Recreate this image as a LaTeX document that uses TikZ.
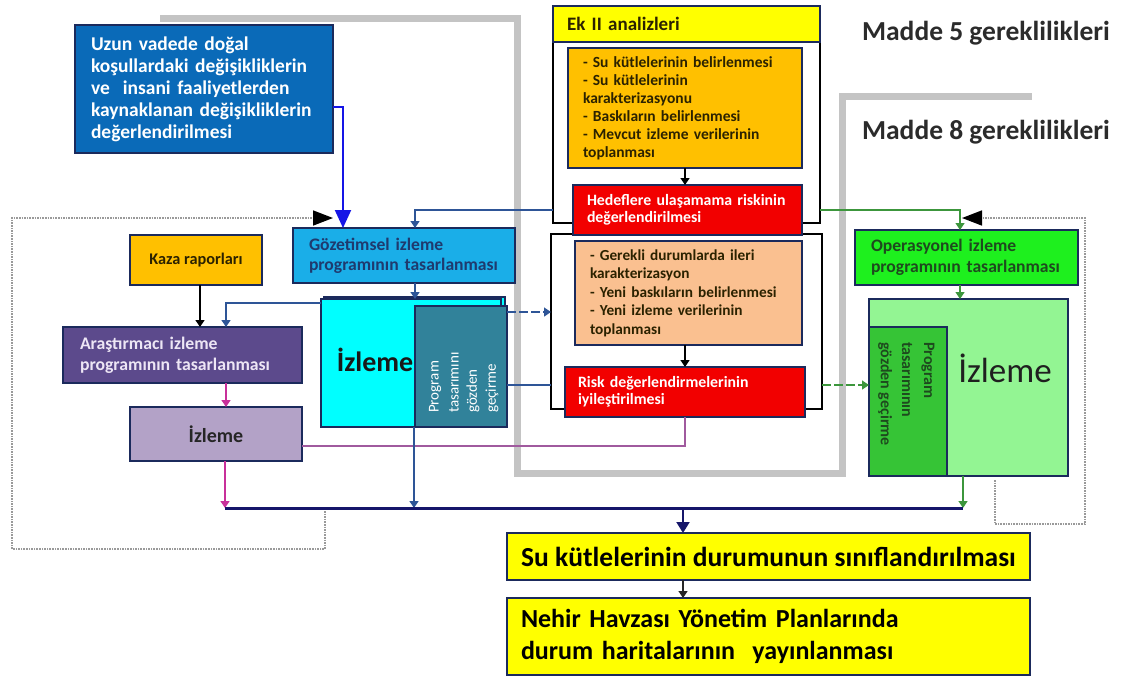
\documentclass[tikz,border=0pt]{standalone}
\usepackage{fontspec}
\setmainfont{Carlito}
\usetikzlibrary{arrows.meta,calc}
\definecolor{bnavy}{HTML}{1B2A5C}
\definecolor{uzunblue}{HTML}{0A6AB8}
\definecolor{orng}{HTML}{FFC000}
\definecolor{peach}{HTML}{FAC090}
\definecolor{rred}{HTML}{F20000}
\definecolor{gozblue}{HTML}{1AAEE8}
\definecolor{opgreen}{HTML}{1EF01E}
\definecolor{lgreen}{HTML}{93F593}
\definecolor{dgreen}{HTML}{36C436}
\definecolor{cyanb}{HTML}{00FFFF}
\definecolor{tealb}{HTML}{31829A}
\definecolor{purp}{HTML}{5C4A8C}
\definecolor{lilac}{HTML}{B3A2C7}
\definecolor{yel}{HTML}{FFFF00}
\definecolor{steel}{HTML}{2E5597}
\definecolor{arrgreen}{HTML}{3C963C}
\definecolor{magen}{HTML}{C8309A}
\definecolor{mauve}{HTML}{A05A9E}
\definecolor{mainnavy}{HTML}{16166A}
\definecolor{graybar}{HTML}{C4C4C4}
\definecolor{dotgray}{HTML}{9A9A9A}
\definecolor{bigblue}{HTML}{1515E6}
\definecolor{goztext}{HTML}{1F3A6E}
\definecolor{optext}{HTML}{1E4A1E}
\definecolor{darktext}{HTML}{2B2200}
\definecolor{lavtext}{HTML}{EDE6F5}
\definecolor{maddetext}{HTML}{2B2B2B}
\begin{document}
\begin{tikzpicture}[x=1pt,y=-1pt,
  bx/.style={draw=bnavy, line width=1.5pt, anchor=north west, inner ysep=0pt, outer sep=0pt},
  frame/.style={draw=black, line width=1.8pt, anchor=north west, inner sep=0pt, outer sep=0pt},
  tip/.style={-{Triangle[width=9pt,length=7pt]}},
  conn/.style={line width=1.3pt},
  dashconn/.style={line width=1.3pt, dash pattern=on 9pt off 3pt},
  dotline/.style={dotgray, line width=1.6pt, densely dotted},
  bigtip/.style={-{Triangle[width=15pt,length=20pt,color=black,fill=black]}},
  vtext/.style={inner sep=0pt, anchor=west}]
\useasboundingbox (0,0) rectangle (1127,681);
\fill[white] (0,0) rectangle (1127,681);

% grey requirement bars
\draw[graybar, line width=7pt] (160,18) -- (517,18) -- (517,473) -- (842,473) -- (842,96) -- (1032,96);

% left top box
\node[bx, fill=uzunblue, text=white, minimum width=258pt, minimum height=128pt, text width=226pt, inner xsep=16pt, align=left, font=\bfseries\fontsize{19.5}{22}\selectfont] (uzun) at (75,25) {Uzun vadede doğal\\koşullardaki değişikliklerin\\ve~ insani faaliyetlerden\\kaynaklanan değişikliklerin\\değerlendirilmesi};

% Ek II group
\node[frame, minimum width=267pt, minimum height=217pt] (ek2) at (553,6) {};
\node[bx, fill=yel, minimum width=267pt, minimum height=36pt, text width=239pt, inner xsep=14pt, align=left, text=darktext, font=\bfseries\fontsize{19}{22}\selectfont] (ek2h) at (553,6) {Ek II analizleri};
\node[bx, fill=orng, minimum width=234pt, minimum height=120pt, text width=204pt, inner xsep=15pt, align=left, text=darktext, font=\bfseries\fontsize{15.5}{18}\selectfont] (orange) at (568,48) {- Su kütlelerinin belirlenmesi\\- Su kütlelerinin\\karakterizasyonu\\- Baskıların belirlenmesi\\- Mevcut izleme verilerinin\\toplanması};
\node[frame, minimum width=271pt, minimum height=175pt] (ek2b) at (551,234) {};
\node[bx, fill=rred, text=white, minimum width=229pt, minimum height=50pt, text width=201pt, inner xsep=14pt, align=left, font=\bfseries\fontsize{15.8}{17.5}\selectfont] (hedef) at (573,185) {Hedeflere ulaşamama riskinin\\değerlendirilmesi};
\node[bx, fill=peach, minimum width=227pt, minimum height=104pt, text width=197pt, inner xsep=15pt, align=left, text=darktext, font=\bfseries\fontsize{15.3}{18.5}\selectfont] (peachb) at (575,241) {- Gerekli durumlarda ileri\\karakterizasyon\\- Yeni baskıların belirlenmesi\\- Yeni izleme verilerinin\\toplanması};
\node[bx, fill=rred, text=white, minimum width=240pt, minimum height=50pt, text width=214pt, inner xsep=13pt, align=left, font=\bfseries\fontsize{15.8}{17.5}\selectfont] (risk) at (565,367) {Risk değerlendirmelerinin\\iyileştirilmesi};

% Madde labels
\node[text=maddetext, font=\bfseries\fontsize{27.5}{30}\selectfont] (m5) at (986,33) {Madde 5 gereklilikleri};
\node[text=maddetext, font=\bfseries\fontsize{27.5}{30}\selectfont] (m8) at (986,132) {Madde 8 gereklilikleri};

% surveillance
\node[bx, fill=gozblue, text=goztext, minimum width=222pt, minimum height=55pt, text width=190pt, inner xsep=16pt, align=left, font=\bfseries\fontsize{17.6}{20}\selectfont] (goz) at (293,228) {Gözetimsel izleme\\programının tasarlanması};
\node[bx, fill=cyanb, minimum width=181pt, minimum height=128pt] (cback) at (324,297) {};
\node[bx, fill=cyanb, minimum width=180pt, minimum height=128pt] (cfront) at (321,299) {};
\node[text=black!90, font=\bfseries\fontsize{28}{30}\selectfont] (cizl) at (375,360) {İzleme};
\node[bx, fill=tealb, minimum width=92pt, minimum height=121pt] (rev1) at (415,306) {};
\node[vtext, rotate=90, text=white, font=\fontsize{15}{15}\selectfont] (t1) at (435,413) {Program};
\node[vtext, rotate=90, text=white, font=\fontsize{15}{15}\selectfont] (t2) at (454,413) {tasarımını};
\node[vtext, rotate=90, text=white, font=\fontsize{15}{15}\selectfont] (t3) at (473,413) {gözden};
\node[vtext, rotate=90, text=white, font=\fontsize{15}{15}\selectfont] (t4) at (492,413) {geçirme};

% investigative
\node[bx, fill=orng, text=darktext, minimum width=132pt, minimum height=50pt, align=center, font=\bfseries\fontsize{16.3}{19}\selectfont] (kaza) at (130,235) {Kaza raporları};
\node[bx, fill=purp, text=lavtext, minimum width=239pt, minimum height=56pt, text width=205pt, inner xsep=17pt, align=left, font=\bfseries\fontsize{17.7}{21}\selectfont] (arast) at (63,327) {Araştırmacı izleme\\programının tasarlanması};
\node[bx, fill=lilac, text=black!85, minimum width=172pt, minimum height=54pt, align=center, font=\bfseries\fontsize{20}{22}\selectfont] (lizl) at (130,407) {İzleme};

% operational
\node[bx, fill=opgreen, text=optext, minimum width=223pt, minimum height=55pt, text width=191pt, inner xsep=16pt, align=left, font=\bfseries\fontsize{17.6}{21}\selectfont] (oper) at (855,230) {Operasyonel izleme\\programının tasarlanması};
\node[bx, fill=lgreen, minimum width=199pt, minimum height=177pt] (gizl) at (869,299) {};
\node[bx, fill=dgreen, minimum width=78pt, minimum height=149pt] (rev2) at (869,327) {};
\node[text=black!88, font=\fontsize{35}{38}\selectfont] (gizlt) at (1005,368) {İzleme};
\node[vtext, rotate=-90, text=optext, font=\bfseries\fontsize{16}{16}\selectfont] (g1) at (928,342) {Program};
\node[vtext, rotate=-90, text=optext, font=\bfseries\fontsize{16}{16}\selectfont] (g2) at (907,342) {tasarımının};
\node[vtext, rotate=-90, text=optext, font=\bfseries\fontsize{16}{16}\selectfont] (g3) at (885,342) {gözden geçirme};

% results
\node[bx, fill=yel, text=black, minimum width=523pt, minimum height=47pt, align=center, font=\bfseries\fontsize{27.5}{30}\selectfont] (su) at (507,533) {Su kütlelerinin durumunun sınıflandırılması};
\node[bx, fill=yel, text=black, minimum width=523pt, minimum height=77pt, text width=495pt, inner xsep=14pt, align=left, font=\bfseries\fontsize{26}{32}\selectfont] (nehir) at (507,598) {Nehir Havzası Yönetim Planlarında\\durum haritalarının~ yayınlanması};

% main collecting line
\coordinate (mL) at (225,508);
\coordinate (mR) at (963,508);

% connectors
\draw[bigblue, line width=2pt, -{Triangle[width=16pt,length=18pt]}] ([yshift=-18pt]uzun.east) -| ([xshift=50pt]goz.north west);
\draw[steel, conn, tip] (ek2.west |- hedef.west) -| ([xshift=122pt]goz.north west);
\draw[arrgreen, conn, tip] (ek2.east |- hedef.east) -| ([xshift=105pt]oper.north west);
\draw[black, conn, tip] ([xshift=117pt]orange.south west) -- ([xshift=112pt]hedef.north west);
\draw[black, conn, tip] ([xshift=110pt]peachb.south west) -- ([xshift=120pt]risk.north west);
\coordinate (ry) at ([yshift=7pt]risk.west);
\draw[steel, conn] (ek2b.west |- ry) -- (rev1.east |- ry);
\coordinate (cy) at ([yshift=-6pt]rev1.north east);
\draw[steel, dashconn, tip] (cy) -- (ek2b.west |- cy);
\draw[arrgreen, dashconn, tip] (ek2b.east |- ry) -- (gizl.west |- ry);
\draw[mauve, line width=1.2pt] (risk.south) |- ([yshift=-12pt]lizl.east);
\draw[steel, conn, tip] ([xshift=122pt]goz.south west) -- ([xshift=94pt]cfront.north west);
\draw[steel, conn, tip] ([yshift=-4pt]cfront.north west) -| ([xshift=163pt]arast.north west);
\draw[black, conn, tip] ([xshift=70pt]kaza.south west) -- ([xshift=137pt]arast.north west);
\draw[magen, conn, tip] ([xshift=163pt]arast.south west) -- ([xshift=96pt]lizl.north west);
\draw[arrgreen, conn, tip] ([xshift=105pt]oper.south west) -- ([xshift=91pt]gizl.north west);
\draw[magen, conn, tip] ([xshift=95pt]lizl.south west) -- (mL);
\draw[steel, conn, tip] ([xshift=93pt]cfront.south west) -- ([xshift=93pt]cfront.south west |- mL);
\draw[arrgreen, conn, tip] ([xshift=94pt]gizl.south west) -- (mR);
\draw[mainnavy, line width=3pt] (mL) -- (mR);
\draw[mainnavy, line width=2pt, -{Triangle[width=13pt,length=11pt]}] ([xshift=176pt]su.north west |- mL) -- ([xshift=176pt]su.north west);
\draw[black!85, conn, tip] ([xshift=176pt]su.south west) -- ([xshift=176pt]nehir.north west);

% dotted feedback loops
\draw[dotline, bigtip] ([xshift=100pt,yshift=-3pt]mL) -- ++(0,38) -| (12,218) -- ([xshift=40pt,yshift=10pt]goz.north west);
\draw[dotline, bigtip] ([xshift=126pt,yshift=-4pt]gizl.south west) -- ++(0,44) -| (1085,218) -- ([xshift=107pt,yshift=12pt]oper.north west);
\end{tikzpicture}
\end{document}
